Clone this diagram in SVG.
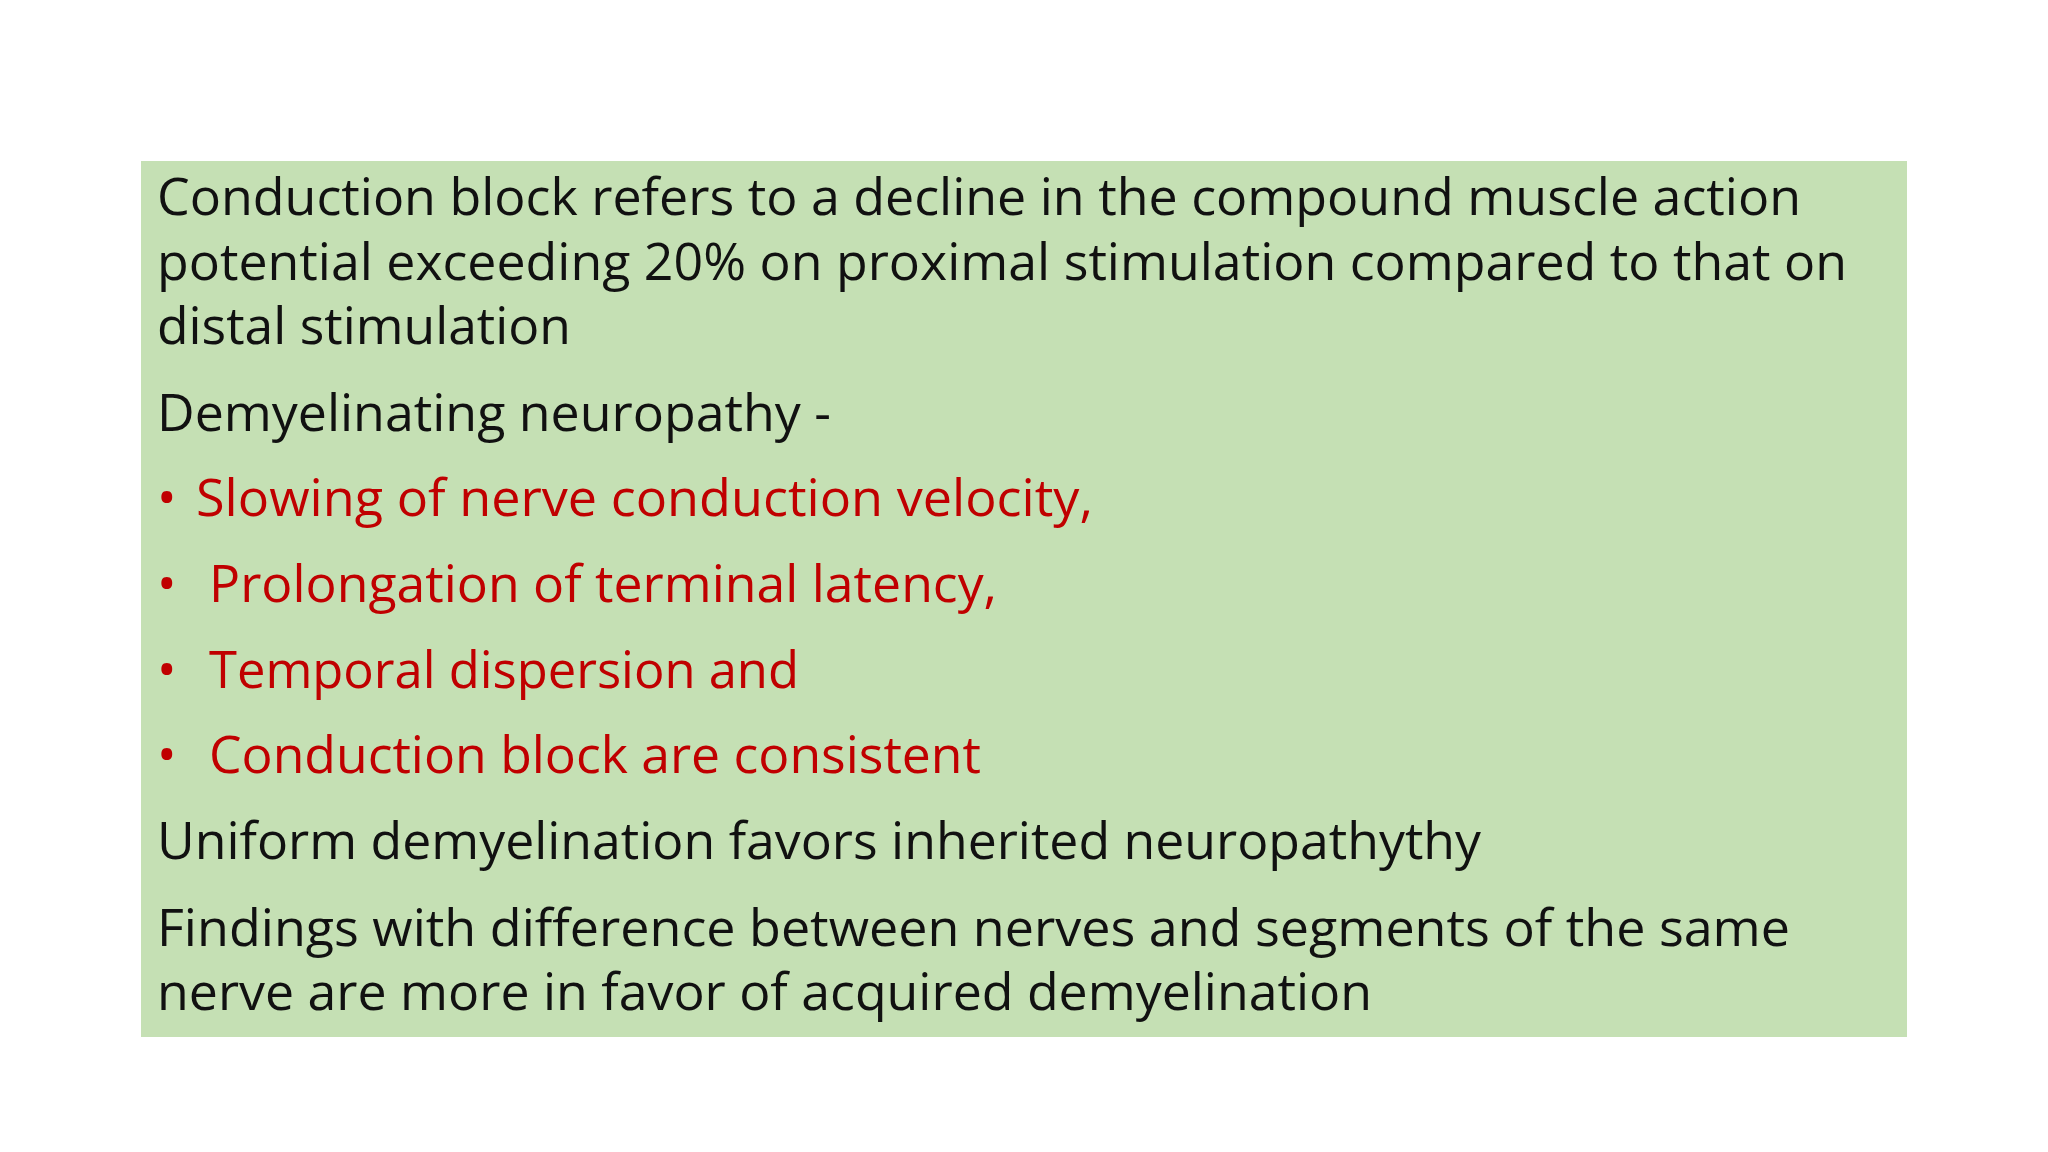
<svg xmlns="http://www.w3.org/2000/svg" width="2048" height="1152" viewBox="0 0 2048 1152">
<style>
text{font-family:"Open Sans","Liberation Sans",sans-serif;font-size:52px;fill:#111}
.r{fill:#C00000}
</style>
<rect width="2048" height="1152" fill="#fff"/>
<g id="box">
<rect x="141" y="161" width="1766" height="876" fill="#C5E0B4"/>
<text x="157" y="215" textLength="1644" lengthAdjust="spacingAndGlyphs">Conduction block refers to a decline in the compound muscle action</text>
<text x="157" y="280" textLength="1690" lengthAdjust="spacingAndGlyphs">potential exceeding 20% on proximal stimulation compared to that on</text>
<text x="157" y="344" textLength="414" lengthAdjust="spacingAndGlyphs">distal stimulation</text>
<text x="157" y="431" textLength="674" lengthAdjust="spacingAndGlyphs">Demyelinating neuropathy -</text>
<text class="r" x="157" y="516">•</text>
<text class="r" x="196" y="516" textLength="897" lengthAdjust="spacingAndGlyphs">Slowing of nerve conduction velocity,</text>
<text class="r" x="157" y="602">•</text>
<text class="r" x="209" y="602" textLength="788" lengthAdjust="spacingAndGlyphs">Prolongation of terminal latency,</text>
<text class="r" x="157" y="688">•</text>
<text class="r" x="209" y="688" textLength="590" lengthAdjust="spacingAndGlyphs">Temporal dispersion and</text>
<text class="r" x="157" y="773">•</text>
<text class="r" x="209" y="773" textLength="772" lengthAdjust="spacingAndGlyphs">Conduction block are consistent</text>
<text x="157" y="859" textLength="1324" lengthAdjust="spacingAndGlyphs">Uniform demyelination favors inherited neuropathythy</text>
<text x="157" y="946" textLength="1633" lengthAdjust="spacingAndGlyphs">Findings with difference between nerves and segments of the same</text>
<text x="157" y="1010" textLength="1215" lengthAdjust="spacingAndGlyphs">nerve are more in favor of acquired demyelination</text>
</g>
</svg>
